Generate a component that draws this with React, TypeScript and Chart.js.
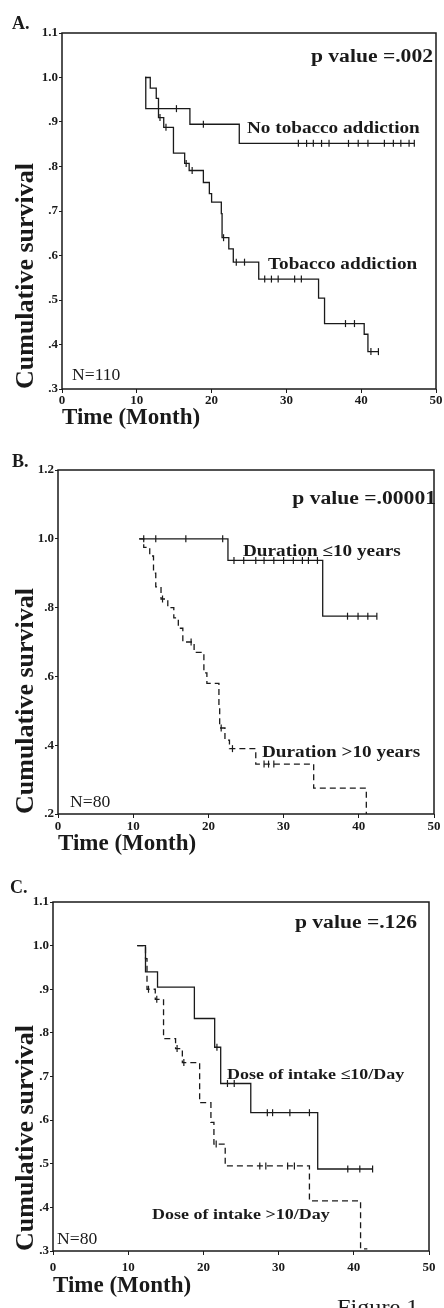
import React, { useEffect, useRef } from "react";
import { Chart, registerables } from "chart.js";

Chart.register(...registerables);

const SERIF = '"Liberation Serif", "Times New Roman", Times, serif';
const INK = "#1a1a1a";

// ---------- shared ----------
const X_TICK_VALUES = [0, 10, 20, 30, 40, 50];
const X_TICK_LABELS = ["0", "10", "20", "30", "40", "50"];
const X_TITLE = "Time (Month)";
const Y_TITLE = "Cumulative survival";

// ---------- Panel A ----------
const A_LETTER = "A.";
const A_P = "p value =.002";
const A_N = "N=110";
const A_Y_TICK_VALUES = [0.3, 0.4, 0.5, 0.6, 0.7, 0.8, 0.9, 1.0, 1.1];
const A_Y_TICK_LABELS = [".3", ".4", ".5", ".6", ".7", ".8", ".9", "1.0", "1.1"];

const A_NO_TOB_LABEL = "No tobacco addiction";
const A_NO_TOB_T = [11.1, 11.2, 17.1, 23.7, 47.1];
const A_NO_TOB_S = [1.0, 0.93, 0.895, 0.852, 0.852];
const A_NO_TOB_CENS = [15.3, 18.9, 31.6, 32.7, 33.6, 34.7, 35.7, 38.3, 39.6, 40.9, 43.1, 44.3, 45.3, 46.4, 47.1];

const A_TOB_LABEL = "Tobacco addiction";
const A_TOB_T = [11.1, 11.8, 12.6, 12.9, 13.6, 14.9, 16.4, 17.0, 18.9, 19.7, 20.0, 21.3, 21.4, 22.3, 22.9, 26.3, 34.3, 35.1, 40.4, 40.9, 42.3];
const A_TOB_S = [1.0, 0.976, 0.953, 0.91, 0.888, 0.83, 0.807, 0.791, 0.764, 0.739, 0.72, 0.694, 0.64, 0.615, 0.585, 0.547, 0.504, 0.447, 0.423, 0.384, 0.384];
const A_TOB_CENS = [13.1, 13.9, 16.6, 17.4, 21.6, 23.3, 24.4, 27.1, 28.0, 28.9, 31.1, 32.0, 37.9, 39.1, 41.3, 42.3];

// ---------- Panel B ----------
const B_LETTER = "B.";
const B_P = "p value =.00001";
const B_N = "N=80";
const B_Y_TICK_VALUES = [0.2, 0.4, 0.6, 0.8, 1.0, 1.2];
const B_Y_TICK_LABELS = [".2", ".4", ".6", ".8", "1.0", "1.2"];

const B_LE_LABEL = "Duration \u226410 years";
const B_LE_T = [10.8, 22.6, 35.2, 42.4];
const B_LE_S = [1.0, 0.937, 0.775, 0.775];
const B_LE_CENS = [11.4, 13.0, 17.0, 21.9, 23.4, 24.7, 26.3, 27.4, 28.7, 30.0, 31.3, 32.5, 33.3, 34.5, 38.5, 39.9, 41.2, 42.4];

const B_GT_LABEL = "Duration >10 years";
const B_GT_T = [10.8, 11.4, 12.2, 12.7, 13.0, 13.7, 14.6, 15.4, 16.0, 16.6, 18.1, 19.4, 19.8, 21.4, 21.5, 22.2, 22.8, 26.3, 34.0, 41.0];
const B_GT_S = [1.0, 0.975, 0.95, 0.9, 0.86, 0.825, 0.8, 0.77, 0.74, 0.7, 0.67, 0.61, 0.58, 0.51, 0.45, 0.415, 0.39, 0.345, 0.275, 0.2];
const B_GT_CENS = [13.9, 17.7, 21.7, 23.2, 27.4, 28.0, 28.7];

// ---------- Panel C ----------
const C_LETTER = "C.";
const C_P = "p value =.126";
const C_N = "N=80";
const C_Y_TICK_VALUES = [0.3, 0.4, 0.5, 0.6, 0.7, 0.8, 0.9, 1.0, 1.1];
const C_Y_TICK_LABELS = [".3", ".4", ".5", ".6", ".7", ".8", ".9", "1.0", "1.1"];

const C_LE_LABEL = "Dose of intake \u226410/Day";
const C_LE_T = [11.2, 12.3, 13.9, 18.8, 21.5, 22.3, 26.3, 35.2, 42.5];
const C_LE_S = [1.0, 0.94, 0.905, 0.833, 0.767, 0.684, 0.617, 0.488, 0.488];
const C_LE_CENS = [21.8, 23.2, 24.1, 28.5, 29.2, 31.5, 34.1, 39.2, 40.8, 42.5];

const C_GT_LABEL = "Dose of intake >10/Day";
const C_GT_T = [11.2, 12.3, 12.5, 13.6, 14.7, 16.3, 17.2, 19.5, 21.0, 21.4, 22.9, 34.1, 40.9, 41.8];
const C_GT_S = [1.0, 0.97, 0.9, 0.877, 0.787, 0.764, 0.732, 0.64, 0.595, 0.545, 0.495, 0.415, 0.305, 0.305];
const C_GT_CENS = [12.7, 13.8, 16.5, 17.4, 21.7, 27.5, 28.3, 31.2, 32.1];

const FIGURE_CAPTION = "Figure 1";

// ---------- helpers ----------
type Curve = { label: string; t: number[]; s: number[]; cens: number[]; dashed?: boolean };
type Txt = { text: string; x: number; y: number; font: string; sx?: number; align?: "left" | "right"; baseline?: CanvasTextBaseline };
type Panel = {
  top: number;
  height: number;
  area: { left: number; right: number; top: number; bottom: number };
  yMin: number;
  yMax: number;
  yTickValues: number[];
  yTickLabels: string[];
  xTickPad: number;
  xTitlePad: number;
  curves: Curve[];
  texts: Txt[];
};

function survAt(c: Curve, t: number) {
  let v = c.s[0];
  for (let i = 0; i < c.t.length; i++) if (c.t[i] <= t) v = c.s[i];
  return v;
}

const bold = (px: number) => `bold ${px}px ${SERIF}`;
const normal = (px: number) => `${px}px ${SERIF}`;

const PANELS: Panel[] = [
  {
    top: 0,
    height: 440,
    area: { left: 62, right: 436, top: 33, bottom: 389 },
    yMin: 0.3,
    yMax: 1.1,
    yTickValues: A_Y_TICK_VALUES,
    yTickLabels: A_Y_TICK_LABELS,
    xTickPad: 0,
    xTitlePad: 8,
    curves: [
      { label: A_NO_TOB_LABEL, t: A_NO_TOB_T, s: A_NO_TOB_S, cens: A_NO_TOB_CENS },
      { label: A_TOB_LABEL, t: A_TOB_T, s: A_TOB_S, cens: A_TOB_CENS },
    ],
    texts: [
      { text: A_LETTER, x: 12, y: 24, font: bold(18) },
      { text: A_P, x: 433, y: 57, font: bold(18), sx: 1.2, align: "right" },
      { text: A_NO_TOB_LABEL, x: 247, y: 129, font: bold(16), sx: 1.2 },
      { text: A_TOB_LABEL, x: 268, y: 265, font: bold(16), sx: 1.2 },
      { text: A_N, x: 72, y: 376, font: normal(16), sx: 1.1 },
    ],
  },
  {
    top: 440,
    height: 430,
    area: { left: 58, right: 434, top: 30, bottom: 374 },
    yMin: 0.2,
    yMax: 1.2,
    yTickValues: B_Y_TICK_VALUES,
    yTickLabels: B_Y_TICK_LABELS,
    xTickPad: 1,
    xTitlePad: 12,
    curves: [
      { label: B_LE_LABEL, t: B_LE_T, s: B_LE_S, cens: B_LE_CENS },
      { label: B_GT_LABEL, t: B_GT_T, s: B_GT_S, cens: B_GT_CENS, dashed: true },
    ],
    texts: [
      { text: B_LETTER, x: 12, y: 22, font: bold(18) },
      { text: B_P, x: 436, y: 59, font: bold(18), sx: 1.2, align: "right" },
      { text: B_LE_LABEL, x: 243, y: 112, font: bold(16), sx: 1.2 },
      { text: B_GT_LABEL, x: 262, y: 313, font: bold(16), sx: 1.2 },
      { text: B_N, x: 70, y: 363, font: normal(16), sx: 1.1 },
    ],
  },
  {
    top: 870,
    height: 438,
    area: { left: 53, right: 429, top: 32, bottom: 381 },
    yMin: 0.3,
    yMax: 1.1,
    yTickValues: C_Y_TICK_VALUES,
    yTickLabels: C_Y_TICK_LABELS,
    xTickPad: 5,
    xTitlePad: 8,
    curves: [
      { label: C_LE_LABEL, t: C_LE_T, s: C_LE_S, cens: C_LE_CENS },
      { label: C_GT_LABEL, t: C_GT_T, s: C_GT_S, cens: C_GT_CENS, dashed: true },
    ],
    texts: [
      { text: C_LETTER, x: 10, y: 18, font: bold(18) },
      { text: C_P, x: 417, y: 53, font: bold(18), sx: 1.2, align: "right" },
      { text: C_LE_LABEL, x: 227, y: 205, font: bold(15), sx: 1.2 },
      { text: C_GT_LABEL, x: 152, y: 345, font: bold(15), sx: 1.2 },
      { text: C_N, x: 57, y: 370, font: normal(16), sx: 1.1 },
      { text: FIGURE_CAPTION, x: 337, y: 427, font: normal(22), sx: 1.1, baseline: "top" },
    ],
  },
];

function buildConfig(p: Panel): any {
  const datasets: any[] = [];
  p.curves.forEach((c) => {
    datasets.push({
      type: "line",
      label: c.label,
      data: c.t.map((t, i) => ({ x: t, y: c.s[i] })),
      stepped: "before",
      borderColor: INK,
      borderWidth: 1.3,
      borderDash: c.dashed ? [6, 4] : [],
      pointRadius: 0,
      fill: false,
    });
    datasets.push({
      type: "line",
      label: c.label + " (censored)",
      data: c.cens.map((t) => ({ x: t, y: survAt(c, t) })),
      showLine: false,
      pointStyle: "line",
      rotation: 90,
      pointRadius: 3.5,
      pointBorderColor: INK,
      borderColor: INK,
      pointBorderWidth: 1.2,
    });
  });

  const annot = {
    id: "annot",
    afterDraw(chart: any) {
      const ctx = chart.ctx;
      p.texts.forEach((t) => {
        ctx.save();
        ctx.font = t.font;
        ctx.fillStyle = INK;
        ctx.textBaseline = t.baseline || "middle";
        ctx.textAlign = "left";
        const sx = t.sx || 1;
        const w = ctx.measureText(t.text).width * sx;
        const x = t.align === "right" ? t.x - w : t.x;
        ctx.translate(x, t.y);
        ctx.scale(sx, 1);
        ctx.fillText(t.text, 0, 0);
        ctx.restore();
      });
    },
  };

  const frame = {
    id: "frame",
    afterDatasetsDraw(chart: any) {
      const { ctx, chartArea: a } = chart;
      ctx.save();
      ctx.strokeStyle = INK;
      ctx.lineWidth = 1.5;
      ctx.strokeRect(a.left, a.top, a.right - a.left, a.bottom - a.top);
      ctx.restore();
    },
  };

  return {
    type: "line",
    data: { datasets },
    plugins: [frame, annot],
    options: {
      responsive: false,
      animation: false,
      devicePixelRatio: 1,
      layout: { padding: { top: p.area.top, right: 444 - p.area.right, left: 0, bottom: 0 } },
      plugins: { legend: { display: false }, tooltip: { enabled: false } },
      scales: {
        x: {
          type: "linear",
          min: 0,
          max: 50,
          afterFit: (s: any) => {
            s.height = p.height - p.area.bottom;
          },
          afterBuildTicks: (s: any) => {
            s.ticks = X_TICK_VALUES.map((v) => ({ value: v }));
          },
          ticks: {
            autoSkip: false,
            maxRotation: 0,
            padding: p.xTickPad,
            color: INK,
            font: { family: SERIF, size: 13, weight: "bold" },
            callback: (_v: any, i: number) => X_TICK_LABELS[i],
          },
          grid: { display: true, drawOnChartArea: false, tickLength: 4, color: INK },
          border: { display: false },
          title: {
            display: true,
            text: X_TITLE,
            align: "start",
            color: INK,
            font: { family: SERIF, size: 23, weight: "bold" },
            padding: { top: 0, bottom: p.xTitlePad },
          },
        },
        y: {
          type: "linear",
          min: p.yMin,
          max: p.yMax,
          afterFit: (s: any) => {
            s.width = p.area.left;
          },
          afterBuildTicks: (s: any) => {
            s.ticks = p.yTickValues.map((v) => ({ value: v }));
          },
          ticks: {
            autoSkip: false,
            padding: 1,
            color: INK,
            font: { family: SERIF, size: 13, weight: "bold" },
            callback: (_v: any, i: number) => p.yTickLabels[i],
          },
          grid: { display: true, drawOnChartArea: false, tickLength: 3, color: INK },
          border: { display: false },
          title: {
            display: true,
            text: Y_TITLE,
            align: "start",
            color: INK,
            font: { family: SERIF, size: 26, weight: "bold" },
            padding: { top: 11, bottom: 0 },
          },
        },
      },
    },
  };
}

function KMPanel({ panel }: { panel: Panel }) {
  const ref = useRef<HTMLCanvasElement | null>(null);
  useEffect(() => {
    if (!ref.current) return;
    const chart = new Chart(ref.current, buildConfig(panel));
    return () => chart.destroy();
  }, [panel]);
  return (
    <canvas
      ref={ref}
      width={444}
      height={panel.height}
      style={{ position: "absolute", left: 0, top: panel.top, width: 444, height: panel.height, display: "block" }}
    />
  );
}

export default function App() {
  return (
    <div
      style={{
        position: "absolute",
        left: 0,
        top: 0,
        width: 444,
        height: 1308,
        overflow: "hidden",
        background: "#fff",
      }}
    >
      {PANELS.map((p, i) => (
        <KMPanel key={i} panel={p} />
      ))}
    </div>
  );
}
